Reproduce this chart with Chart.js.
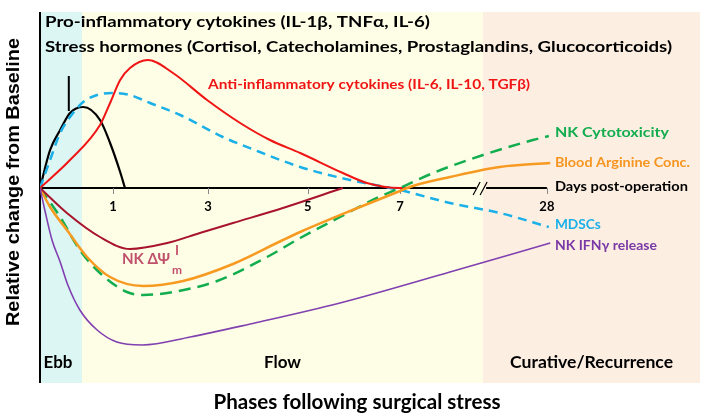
<!DOCTYPE html>
<html>
<head>
<meta charset="utf-8">
<script src="https://cdn.jsdelivr.net/npm/chart.js@4/dist/chart.umd.min.js"></script>
<style>
  html, body { margin: 0; padding: 0; background: #fff; }
  canvas { display: block; }
</style>
</head>
<body>
<canvas id="surgeryChart" width="704" height="417"></canvas>
<script>
// Timeline units: 0 = surgery, axis is schematic (broken between day 7 and 28)
const dayTickPos = [1.52, 3.5, 5.58, 7.5, 10.56];
const dayTickLabels = ['1', '3', '5', '7', '28'];
const axisEnd = 10.56;
const axisBreak = 9.19;

const phaseEdges = [0, 0.875, 9.23, 13.75];
const phaseNames = ['Ebb', 'Flow', 'Curative/Recurrence'];

// Pro-inflammatory cytokines / stress hormones
const proInflamX = [0, 0.21, 0.42, 0.625, 0.9, 1.25, 1.46, 1.67, 1.77];
const proInflamY = [0, 3.8, 5.8, 7.5, 8.1, 6.8, 4.5, 1.6, 0];

// Anti-inflammatory cytokines
const antiInflamX = [0, 0.625, 1.25, 1.46, 1.67, 1.875, 2.25, 2.77, 3.48, 4.17, 4.79, 5.42, 6.31, 6.81, 7.5, 7.71];
const antiInflamY = [0, 2.8, 6.3, 8.5, 10.8, 12.0, 12.8, 11.5, 8.8, 6.5, 4.8, 3.5, 1.5, 0.5, 0, 0];

// MDSCs
const mdscX = [0, 0.21, 0.42, 0.625, 0.9, 1.19, 1.5, 1.875, 2.29, 2.92, 3.81, 4.58, 5.42, 6.46, 7.5, 8.54, 9.58, 10.6];
const mdscY = [0, 2.8, 5.5, 7.1, 8.6, 9.3, 9.5, 9.3, 8.5, 7.3, 5.1, 3.6, 2.1, 0.8, -0.2, -1.5, -2.5, -3.9];

// NK mitochondrial membrane potential
const nkPsiX = [0, 0.56, 1.25, 1.875, 2.65, 3.33, 4.02, 5.06, 6.31];
const nkPsiY = [0, -2.5, -4.9, -6.1, -5.5, -4.5, -3.5, -2.0, 0];

// Blood arginine concentration
const arginineX = [0, 0.21, 0.56, 0.98, 1.46, 2.15, 2.98, 4.02, 5.06, 5.42, 6.46, 7.5, 7.77, 8.54, 9.58, 10.63];
const arginineY = [0, -1.9, -4.2, -6.9, -8.9, -9.8, -9.3, -7.6, -5.2, -4.4, -2.3, -0.3, 0.2, 1.1, 2.1, 2.5];

// NK cytotoxicity
const nkCytoX = [0, 0.42, 0.83, 1.25, 1.81, 2.15, 2.77, 3.69, 4.73, 5.42, 6.25, 7.02, 7.5, 8.19, 9.23, 10.27, 10.6];
const nkCytoY = [0, -2.9, -6.2, -8.5, -10.4, -10.7, -10.4, -9.3, -6.9, -5.0, -2.9, -1.0, 0, 1.5, 3.3, 4.8, 5.2];

// NK IFNγ release
const ifnX = [0, 0.1, 0.25, 0.42, 0.58, 0.83, 1.19, 1.6, 2.13, 3.13, 4.38, 6.25, 8.54, 10.63];
const ifnY = [0, -2.2, -5.2, -7.4, -9.7, -12.2, -14.2, -15.4, -15.7, -14.9, -13.6, -11.5, -8.4, -5.5];

const toPoints = (xs, ys) => xs.map((x, i) => ({ x: x, y: ys[i] }));

const FONT = "Lato, 'Noto Sans', 'DejaVu Sans', sans-serif";

// draw bold text squeezed/stretched to a given width (or a given x scale)
function fitText(ctx, text, x, y, size, width, color, align, family, kFixed) {
    ctx.save();
    ctx.font = 'bold ' + size + 'px ' + (family || FONT);
    ctx.fillStyle = color;
    ctx.textBaseline = 'middle';
    ctx.textAlign = 'left';
    const w = ctx.measureText(text).width;
    const k = kFixed || (width ? width / w : 1);
    const left = align === 'center' ? x - (w * k) / 2 : x;
    ctx.translate(left, y);
    ctx.scale(k, 1);
    ctx.fillText(text, 0, 0);
    ctx.restore();
    return k;
}

const backdrop = {
    id: 'backdrop',
    beforeDatasetsDraw(chart) {
        const { ctx, chartArea, scales } = chart;
        const xs = scales.x, ys = scales.y;
        const bandColors = ['#dcf6f4', '#fefee6', '#fdeee2'];

        ctx.save();
        for (let i = 0; i < phaseNames.length; i++) {
            const x0 = xs.getPixelForValue(phaseEdges[i]);
            const x1 = xs.getPixelForValue(phaseEdges[i + 1]);
            ctx.fillStyle = bandColors[i];
            ctx.fillRect(x0, chartArea.top, x1 - x0, chartArea.bottom - chartArea.top);
        }

        // y axis line
        const y0 = ys.getPixelForValue(0);
        ctx.strokeStyle = '#000';
        ctx.lineWidth = 2;
        ctx.beginPath();
        ctx.moveTo(chartArea.left, chartArea.top);
        ctx.lineTo(chartArea.left, chartArea.bottom);
        ctx.stroke();

        // days axis with a break
        const xb = xs.getPixelForValue(axisBreak);
        ctx.beginPath();
        ctx.moveTo(chartArea.left, y0);
        ctx.lineTo(xb - 5, y0);
        ctx.moveTo(xb + 5, y0);
        ctx.lineTo(xs.getPixelForValue(axisEnd), y0);
        ctx.stroke();
        ctx.lineWidth = 1.2;
        ctx.beginPath();
        ctx.moveTo(xb - 8, y0 + 7);
        ctx.lineTo(xb - 1, y0 - 6);
        ctx.moveTo(xb - 1, y0 + 7);
        ctx.lineTo(xb + 6, y0 - 6);
        ctx.stroke();

        // tick marks
        ctx.strokeStyle = '#888';
        ctx.lineWidth = 1;
        dayTickPos.forEach(t => {
            const px = Math.round(xs.getPixelForValue(t)) + 0.5;
            ctx.beginPath();
            ctx.moveTo(px, y0);
            ctx.lineTo(px, y0 + 6);
            ctx.stroke();
        });

        // stress hormone marker
        const mx = xs.getPixelForValue(0.6);
        ctx.strokeStyle = '#000';
        ctx.lineWidth = 2;
        ctx.beginPath();
        ctx.moveTo(mx, ys.getPixelForValue(11.2));
        ctx.lineTo(mx, ys.getPixelForValue(7.7));
        ctx.stroke();
        ctx.restore();
    },
    afterDatasetsDraw(chart) {
        const { ctx, scales } = chart;
        const xs = scales.x, ys = scales.y;
        const y0 = ys.getPixelForValue(0);

        dayTickPos.forEach((t, i) => {
            fitText(ctx, dayTickLabels[i], xs.getPixelForValue(t), y0 + 19, 13, null, '#000', 'center');
        });

        // phase names
        const phaseWidths = [29, 37, 163];
        for (let i = 0; i < phaseNames.length; i++) {
            const cx = (xs.getPixelForValue(phaseEdges[i]) + xs.getPixelForValue(phaseEdges[i + 1])) / 2;
            fitText(ctx, phaseNames[i], i === 0 ? cx - 3 : cx, 363, 17, phaseWidths[i], '#000', 'center');
        }

        // header texts
        const k = fitText(ctx, 'Stress hormones (Cortisol, Catecholamines, Prostaglandins, Glucocorticoids)', 45, 47, 15, 627, '#000');
        fitText(ctx, 'Pro-inflammatory cytokines (IL-1β, TNFα, IL-6)', 45, 22, 15, null, '#000', null, null, k);
        fitText(ctx, 'Anti-inflammatory cytokines (IL-6, IL-10, TGFβ)', 208, 84, 14, 322, '#f01515');

        // series labels at the right end
        const lx = xs.getPixelForValue(axisEnd) + 8;
        fitText(ctx, 'NK Cytotoxicity', lx, ys.getPixelForValue(5.5), 13, 114, '#12ad4f');
        fitText(ctx, 'Blood Arginine Conc.', lx, ys.getPixelForValue(2.5), 13, 135, '#f6951f');
        fitText(ctx, 'Days post-operation', lx, y0 - 2, 14, 133, '#000');
        fitText(ctx, 'MDSCs', lx, ys.getPixelForValue(-3.7), 13, 46, '#1bb0e8');
        fitText(ctx, 'NK IFNγ release', lx, ys.getPixelForValue(-5.8), 13, 102, '#7a3aa6');

        // NK ΔΨm label
        fitText(ctx, 'NK ΔΨ', 122, 259, 15, 48, '#c0506c');
        fitText(ctx, 'm', 172, 270, 11, 10, '#c0506c');
        ctx.save();
        ctx.strokeStyle = '#b83050';
        ctx.lineWidth = 1.5;
        ctx.beginPath();
        ctx.moveTo(177, 245);
        ctx.lineTo(177, 255);
        ctx.stroke();
        ctx.restore();

        // axis titles
        ctx.save();
        ctx.translate(14, 182);
        ctx.rotate(-Math.PI / 2);
        fitText(ctx, 'Relative change from Baseline', 0, 0, 18, 288, '#000', 'center', "'Liberation Sans', Arial, sans-serif");
        ctx.restore();
        fitText(ctx, 'Phases following surgical stress', 357, 402, 21, 287, '#000', 'center');
    }
};

const lineSet = (xs, ys, color, width, dash) => ({
    data: toPoints(xs, ys),
    borderColor: color,
    borderWidth: width,
    borderDash: dash || [],
    pointRadius: 0,
    fill: false,
    cubicInterpolationMode: 'monotone'
});

new Chart(document.getElementById('surgeryChart'), {
    type: 'line',
    data: {
        datasets: [
            lineSet(ifnX, ifnY, '#8040b0', 1.6),
            lineSet(nkPsiX, nkPsiY, '#a8142c', 2),
            lineSet(arginineX, arginineY, '#f79a22', 2.5),
            lineSet(nkCytoX, nkCytoY, '#12ad4f', 2.5, [12, 7]),
            lineSet(antiInflamX, antiInflamY, '#f01515', 2),
            lineSet(mdscX, mdscY, '#1bb0e8', 2.5, [9, 6]),
            lineSet(proInflamX, proInflamY, '#000000', 2.2)
        ]
    },
    options: {
        responsive: false,
        devicePixelRatio: 1,
        animation: false,
        layout: { padding: { left: 40, top: 12, right: 4, bottom: 34 } },
        plugins: {
            legend: { display: false },
            tooltip: { enabled: false }
        },
        scales: {
            x: { type: 'linear', min: 0, max: 13.75, display: false },
            y: { type: 'linear', min: -19.5, max: 17.6, display: false }
        }
    },
    plugins: [backdrop]
});
</script>
</body>
</html>
